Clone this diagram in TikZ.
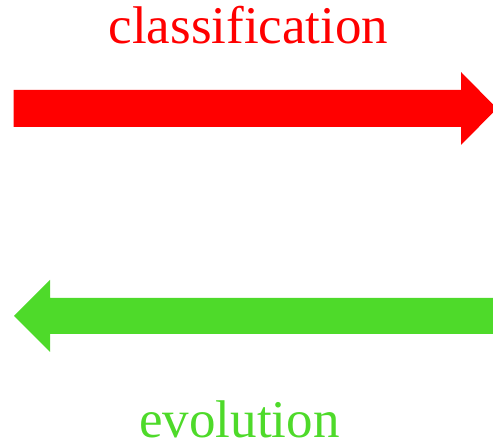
\documentclass[tikz,border=0pt]{standalone}
\usepackage{fontspec}
\setmainfont{Liberation Serif}
\definecolor{arrowred}{RGB}{255,0,0}
\definecolor{arrowgreen}{RGB}{78,218,42}
\begin{document}
\begin{tikzpicture}[x=1pt,y=-1pt,
  label/.style={anchor=base,inner sep=0pt,font=\fontsize{53}{60}\selectfont}]
\useasboundingbox (0,0) rectangle (493,443);
% forward arrow (left to right)
\fill[arrowred] (13.5,90) -- (461,90) -- (461,72) -- (497,108.5)
  -- (461,145) -- (461,127) -- (13.5,127) -- cycle;
\node[label,text=arrowred] (cls) at (248.5,44) {classification};
% backward arrow (right to left)
\fill[arrowgreen] (498,298) -- (50,298) -- (50,280) -- (14,316)
  -- (50,352) -- (50,334) -- (498,334) -- cycle;
\node[label,text=arrowgreen] (evo) at (239.5,438) {evolution};
\end{tikzpicture}
\end{document}
